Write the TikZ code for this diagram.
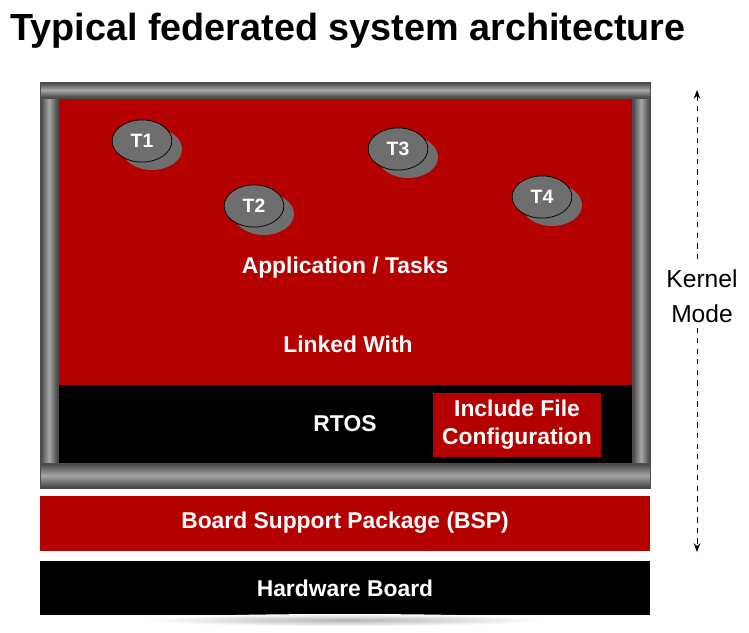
\documentclass[tikz,border=0pt]{standalone}
\usepackage{fontspec}
\setmainfont{Liberation Sans}
\usetikzlibrary{positioning, arrows.meta, shapes.geometric}
\definecolor{appred}{RGB}{181,0,0}
\definecolor{taskgray}{RGB}{110,110,110}

\begin{document}
\begin{tikzpicture}[x=0.02cm, y=-0.02cm,
    label/.style={text=white, font=\bfseries\fontsize{13}{16}\selectfont, align=center},
    task/.style={ellipse, draw=black, fill=taskgray, minimum width=34pt, minimum height=24pt, inner sep=0pt, text=white, font=\bfseries\fontsize{11}{13}\selectfont},
    bar/.style={draw=black!70, top color=black!75, bottom color=black!75, middle color=black!35}]
    \useasboundingbox (0,0) rectangle (749,632);

    \node[anchor=base west, inner sep=0pt, font=\bfseries\fontsize{21.5}{25}\selectfont] (title) at (10,40) {Typical federated system architecture};

    % kernel frame
    \fill[appred] (58,98) rectangle (632,385);
    \fill[black] (58,385) rectangle (632,463);
    \draw[bar] (40,82) rectangle (650,98);
    \draw[bar] (40,463) rectangle (650,488);
    \draw[draw=black!70, left color=black!75, right color=black!75, middle color=black!35] (40,98) rectangle (58,463);
    \draw[draw=black!70, left color=black!75, right color=black!75, middle color=black!35] (632,98) rectangle (650,463);

    \foreach \x/\y/\m in {142/141/1, 254/206/2, 398/149/3, 542/197/4}{
        \fill[taskgray] (\x+10,\y+8) ellipse (30 and 21);
        \node[task] (t\m) at (\x,\y) {T\m};
    }

    \node[label] (app) at (345,268) {Application / Tasks};
    \node[label] (link) at (348,344) {Linked With};
    \node[label] (rtos) at (345,424) {RTOS};
    \node[label, fill=appred, minimum width=95.6pt, minimum height=36.4pt, inner sep=0pt] (incl) at (517,425) {Include File\\Configuration};

    \fill[appred] (40,496) rectangle (650,551);
    \node[label] (bsp) at (345,523) {Board Support Package (BSP)};
    \fill[black] (40,561) rectangle (650,615);
    \node[label] (hw) at (345,588) {Hardware Board};
    \shade[inner color=black!30, outer color=white] (345,620) ellipse (200 and 6);

    \coordinate (top) at (697,90);
    \coordinate (bot) at (697,552);
    \draw[dashed, {Stealth[length=5pt]}-{Stealth[length=5pt]}] (top) -- (bot);
    \node[fill=white, align=center, font=\fontsize{14}{20}\selectfont] (mode) at (702,296) {Kernel\\Mode};
\end{tikzpicture}
\end{document}
